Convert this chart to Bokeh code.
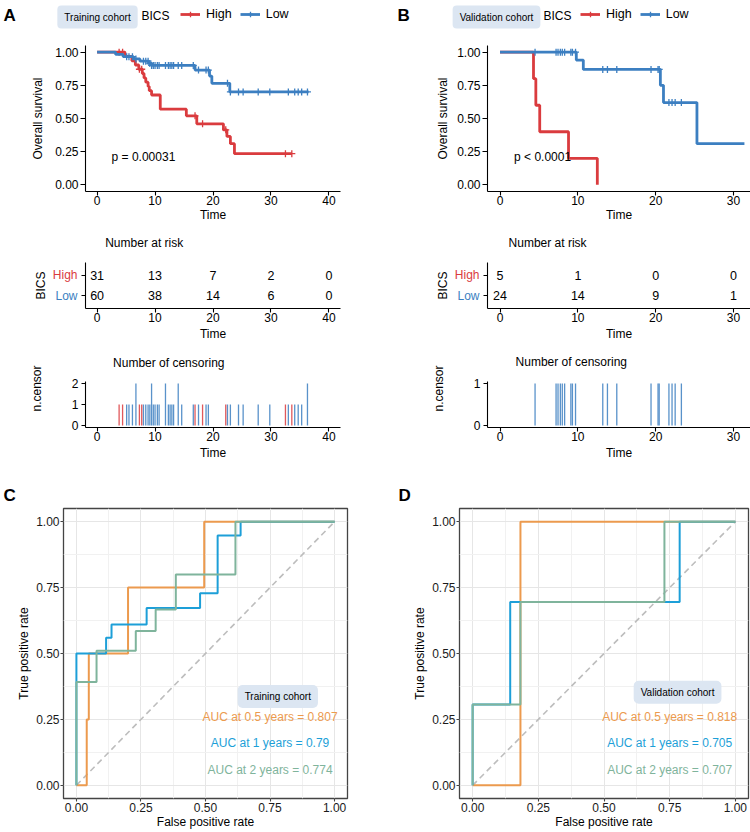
import numpy as np
from bokeh.plotting import figure
from bokeh.models import (Range1d, FixedTicker, NumeralTickFormatter, Label, Legend, LegendItem,
                          CustomJSTickFormatter)
from bokeh.layouts import column, row
from bokeh.core.properties import value
from bokeh.embed import file_html
from bokeh.resources import INLINE

FONT = "Liberation Sans"
RED = "#DA3B3E"
BLUE = "#3C7FC1"
ORANGE = "#EC9A4E"
CYAN = "#1D9FD8"
GREEN = "#7FB49C"

# ---------------- Training cohort: Kaplan-Meier ----------------
tr_high_t = [0, 4.8, 6.0, 6.6, 7.2, 7.8, 8.1, 8.4, 8.8, 9.0, 9.4, 10.9, 15.4, 17.2, 21.8, 22.4, 23.0, 23.7]
tr_high_s = [1.0, 0.968, 0.935, 0.903, 0.871, 0.839, 0.806, 0.774, 0.742, 0.71, 0.677, 0.57, 0.52, 0.46, 0.415, 0.365, 0.31, 0.235]
tr_high_end = 33.6
tr_high_cens_t = [3.8, 4.4, 7.3, 7.7, 16.9, 18.2, 22.2, 32.5, 33.6]
tr_high_cens_n = [1, 1, 1, 1, 1, 1, 1, 1, 1]

tr_low_t = [0, 3.2, 4.5, 6.3, 7.4, 8.9, 9.4, 16.9, 19.4, 19.8, 22.9]
tr_low_s = [1.0, 0.983, 0.966, 0.949, 0.932, 0.915, 0.90, 0.865, 0.82, 0.765, 0.70]
tr_low_end = 36.5
tr_low_cens_t = [5.1, 5.5, 6.1, 6.7, 8.0, 8.4, 8.8, 9.1, 9.4, 9.7, 10.0, 10.4, 10.7, 11.8, 12.3, 12.6,
                 12.9, 13.2, 14.0, 14.6, 16.6, 17.5, 18.8, 19.2, 22.5, 23.0, 24.4, 25.2, 27.8, 29.8,
                 33.0, 34.1, 34.7, 35.3, 36.3]
tr_low_cens_n = [1, 1, 1, 2, 1, 1, 1, 1, 2, 1, 1, 1, 1, 2, 1, 1,
                 1, 1, 2, 1, 1, 1, 1, 1, 1, 1, 1, 1, 1, 1,
                 1, 1, 1, 1, 2]

tr_risk_times = [0, 10, 20, 30, 40]
tr_risk_high = [31, 13, 7, 2, 0]
tr_risk_low = [60, 38, 14, 6, 0]
tr_pval = "p = 0.00031"

# ---------------- Validation cohort: Kaplan-Meier ----------------
va_high_t = [0, 4.3, 4.6, 5.1, 8.8, 12.5]
va_high_s = [1.0, 0.8, 0.6, 0.4, 0.2, 0.0]
va_high_end = 12.5
va_high_cens_t = []
va_high_cens_n = []

va_low_t = [0, 9.8, 10.7, 20.6, 21.0, 25.3]
va_low_s = [1.0, 0.94, 0.87, 0.75, 0.62, 0.31]
va_low_end = 31.4
va_low_cens_t = [4.5, 7.2, 7.45, 7.75, 8.0, 8.3, 9.1, 9.3, 9.7, 13.2, 13.8, 15.0,
                 19.4, 20.3, 20.45, 21.7, 22.1, 22.5, 23.3]
va_low_cens_n = [1] * 19

va_risk_times = [0, 10, 20, 30]
va_risk_high = [5, 1, 0, 0]
va_risk_low = [24, 14, 9, 1]
va_pval = "p < 0.0001"

# ---------------- ROC curves ----------------
c_fpr_05 = [0, 0.04, 0.04, 0.048, 0.048, 0.20, 0.20, 0.495, 0.495, 1.0]
c_tpr_05 = [0, 0, 0.25, 0.25, 0.5, 0.5, 0.75, 0.75, 1.0, 1.0]
c_fpr_1 = [0, 0, 0.115, 0.115, 0.136, 0.136, 0.272, 0.272, 0.479, 0.479, 0.547, 0.547, 0.636, 0.636, 1.0]
c_tpr_1 = [0, 0.5, 0.5, 0.56, 0.56, 0.61, 0.61, 0.673, 0.673, 0.729, 0.729, 0.948, 0.948, 1.0, 1.0]
c_fpr_2 = [0, 0, 0.078, 0.078, 0.23, 0.23, 0.307, 0.307, 0.385, 0.385, 0.616, 0.616, 1.0]
c_tpr_2 = [0, 0.392, 0.392, 0.51, 0.51, 0.585, 0.585, 0.667, 0.667, 0.80, 0.80, 1.0, 1.0]
c_auc = ["AUC at 0.5 years = 0.807", "AUC at 1 years = 0.79", "AUC at 2 years = 0.774"]

d_fpr_05 = [0, 0.182, 0.182, 1.0]
d_tpr_05 = [0, 0, 1.0, 1.0]
d_fpr_1 = [0, 0, 0.143, 0.143, 0.788, 0.788, 1.0]
d_tpr_1 = [0, 0.307, 0.307, 0.695, 0.695, 1.0, 1.0]
d_fpr_2 = [0, 0, 0.182, 0.182, 0.730, 0.730, 1.0]
d_tpr_2 = [0, 0.307, 0.307, 0.695, 0.695, 1.0, 1.0]
d_auc = ["AUC at 0.5 years = 0.818", "AUC at 1 years = 0.705", "AUC at 2 years = 0.707"]

diag = [0, 1]
unit_ticks = [0, 0.25, 0.5, 0.75, 1.0]
unit_minor = [0.125, 0.375, 0.625, 0.875]
group_names = ["High", "Low"]
group_rows = [2, 1]
group_colors = [RED, BLUE]

RISK_YR = (0.4, 4.178)


def step_xy(t, s, end):
    xs, ys = [t[0]], [s[0]]
    for i in range(1, len(t)):
        xs += [t[i], t[i]]
        ys += [s[i - 1], s[i]]
    xs.append(end)
    ys.append(s[-1])
    return xs, ys


def surv_at(t, s, times):
    if len(times) == 0:
        return []
    idx = np.searchsorted(np.array(t), np.array(times), side="right") - 1
    return [s[i] for i in idx]


def style_axis(ax, tick_out=5, standoff=2, label_standoff=5, size="12px",
               label_size="12px", line_color="black", text_color="black", line=True):
    ax.axis_line_color = line_color if line else None
    ax.axis_line_width = 1.1
    ax.major_tick_line_color = line_color
    ax.major_tick_line_width = 1.1
    ax.major_tick_out = tick_out
    ax.major_tick_in = 0
    ax.minor_tick_line_color = None
    ax.major_label_text_font = FONT
    ax.major_label_text_font_size = size
    ax.major_label_text_color = text_color
    ax.major_label_standoff = standoff
    ax.axis_label_text_font = FONT
    ax.axis_label_text_font_size = label_size
    ax.axis_label_text_font_style = "normal"
    ax.axis_label_text_color = "black"
    ax.axis_label_standoff = label_standoff


def base_fig(w, h, xr, yr, bl, br, bt, bb, axes=True):
    kw = {} if axes else dict(x_axis_location=None, y_axis_location=None)
    p = figure(width=w, height=h, x_range=Range1d(*xr), y_range=Range1d(*yr),
               min_border_left=bl, min_border_right=br, min_border_top=bt, min_border_bottom=bb,
               output_backend="svg", toolbar_location=None, **kw)
    p.xgrid.visible = False
    p.ygrid.visible = False
    p.outline_line_color = None
    p.background_fill_color = "white"
    p.border_fill_color = "white"
    return p


def txt(p, text, x, y, size="12px", color="black", align="left", style="normal", **kw):
    p.add_layout(Label(x=x, y=y, text=text, text_font=FONT,
                       text_font_size=size, text_color=color, text_align=align,
                       text_baseline="middle", text_font_style=style, **kw))


# ---------------- header row (panel letters, cohort tags, BICS legend) ----------------
def header_ab():
    p = base_fig(750, 37, (0, 750), (37, 0), 0, 0, 0, 0, axes=False)
    for letter, lx, cohort, bx, bics_x, leg_x in (("A", 3, "Training cohort", 97, 141, 180),
                                                  ("B", 397, "Validation cohort", 496, 543, 580)):
        txt(p, letter, lx, 15, size="17px", style="bold")
        txt(p, cohort, bx, 16.5, size="10px", align="center",
            background_fill_color="#DCE6F2", border_radius=4, padding=(7, 6))
        txt(p, "BICS", bics_x, 15, size="12px")
        items = []
        for name, col in zip(group_names, group_colors):
            # legend keys only (no data points)
            ln = p.line(x=[np.nan], y=[np.nan], line_color=col, line_width=2.8)
            mk = p.scatter(x=[np.nan], y=[np.nan], marker="cross", size=7, line_width=1.3,
                           line_color=col)
            items.append(LegendItem(label=name, renderers=[ln, mk]))
        p.add_layout(Legend(items=items, orientation="horizontal", location=(leg_x, 16),
                            padding=0, margin=0, spacing=8, label_standoff=6, glyph_width=20,
                            glyph_height=14, label_height=14, label_text_font=FONT,
                            label_text_font_size="12.5px", label_text_color="black",
                            border_line_color=None, background_fill_alpha=0))
    return p


def header_cd():
    p = base_fig(750, 40, (0, 750), (40, 0), 0, 0, 0, 0, axes=False)
    txt(p, "C", 3, 30, size="17px", style="bold")
    txt(p, "D", 398, 30, size="17px", style="bold")
    return p


def km_panel(w, bl, br, xr, xticks, hi, lo, pval, pval_x, ylab_standoff):
    p = base_fig(w, 188, xr, (-0.05, 1.05), bl, br, 8, 34)
    for (t, s, end, ct), col in zip((hi, lo), group_colors):
        xs, ys = step_xy(t, s, end)
        p.line(xs, ys, line_color=col, line_width=2.8)
        p.scatter(ct, surv_at(t, s, ct), marker="cross", size=7, line_width=1.3, line_color=col)
    p.xaxis.ticker = FixedTicker(ticks=xticks)
    p.yaxis.ticker = FixedTicker(ticks=unit_ticks)
    p.yaxis.formatter = NumeralTickFormatter(format="0.00")
    p.xaxis.axis_label = "Time"
    p.yaxis.axis_label = "Overall survival"
    style_axis(p.xaxis[0], tick_out=4, standoff=0, label_standoff=0)
    style_axis(p.yaxis[0], tick_out=5, standoff=2, label_standoff=ylab_standoff)
    txt(p, pval, pval_x, 0.21, size="12px")
    return p


def risk_labels(w, right_x, bics_x):
    # row names of the risk table (coloured like the curves) and its y title,
    # sharing the vertical scale of the table next to it
    p = base_fig(w, 120, (0, w), RISK_YR, 0, 0, 4, 37, axes=False)
    txt(p, "BICS", bics_x, float(np.mean(group_rows)), size="12px", align="center",
        angle=np.pi / 2)
    for name, col, yy in zip(group_names, group_colors, group_rows):
        txt(p, name, right_x, yy, size="12px", color=col, align="right")
    return p


def risk_panel(w, bl, br, xr, xticks, times, hi_n, lo_n, title_x):
    # frame also holds the table title; the y axis line is bounded to the table rows
    p = base_fig(w, 120, xr, RISK_YR, bl, br, 4, 37)
    for rowv, vals in zip(group_rows, (hi_n, lo_n)):
        p.text(x=times, y=[rowv] * len(times), text=[str(v) for v in vals],
               text_align="center", text_baseline="middle", text_font=value(FONT),
               text_font_size="12.5px", text_color="black")
    p.xaxis.ticker = FixedTicker(ticks=xticks)
    p.yaxis.ticker = FixedTicker(ticks=group_rows)
    p.yaxis.bounds = (0.4, 2.6)
    p.yaxis.formatter = CustomJSTickFormatter(code="return '';")
    p.xaxis.axis_label = "Time"
    style_axis(p.xaxis[0], tick_out=4, standoff=0, label_standoff=2)
    style_axis(p.yaxis[0], tick_out=4, standoff=0, label_standoff=0)
    txt(p, "Number at risk", title_x, 3.509, size="12px")
    return p


def cens_panel(w, bl, br, xr, xticks, yr, ybounds, yticks, title_y, hi, lo, title_x):
    p = base_fig(w, 120, xr, yr, bl, br, 4, 38)
    for (ct, cn), col in ((lo, BLUE), (hi, RED)):
        if len(ct):
            p.segment(x0=ct, y0=[0] * len(ct), x1=ct, y1=cn, line_color=col,
                      line_width=1.3, line_alpha=0.85)
    p.xaxis.ticker = FixedTicker(ticks=xticks)
    p.yaxis.ticker = FixedTicker(ticks=yticks)
    p.yaxis.bounds = ybounds
    p.xaxis.axis_label = "Time"
    p.yaxis.axis_label = "n.censor"
    style_axis(p.xaxis[0], tick_out=4, standoff=0, label_standoff=2)
    style_axis(p.yaxis[0], tick_out=4, standoff=3, label_standoff=25)
    txt(p, "Number of censoring", title_x, title_y, size="12px")
    return p


def roc_panel(w, bl, br, curves, cohort, aucs, box_y):
    p = figure(width=w, height=326, x_range=Range1d(-0.05, 1.05), y_range=Range1d(-0.05, 1.05),
               min_border_left=bl, min_border_right=br, min_border_top=3, min_border_bottom=32,
               output_backend="svg", toolbar_location=None)
    p.outline_line_color = "#444444"
    p.outline_line_width = 1.3
    tk = FixedTicker(ticks=unit_ticks, minor_ticks=unit_minor)
    p.xaxis.ticker = tk
    p.yaxis.ticker = tk
    p.xaxis.formatter = NumeralTickFormatter(format="0.00")
    p.yaxis.formatter = NumeralTickFormatter(format="0.00")
    for g in (p.xgrid[0], p.ygrid[0]):
        g.ticker = tk
        g.grid_line_color = "#E6E6E6"
        g.grid_line_width = 1
        g.minor_grid_line_color = "#F1F1F1"
        g.minor_grid_line_width = 1
    p.xaxis.axis_label = "False positive rate"
    p.yaxis.axis_label = "True positive rate"
    style_axis(p.xaxis[0], tick_out=3, standoff=0, label_standoff=0, size="12px",
               line_color="#444444", text_color="#1a1a1a", line=False)
    style_axis(p.yaxis[0], tick_out=3, standoff=0, label_standoff=2, size="12px",
               line_color="#444444", text_color="#1a1a1a", line=False)
    p.line(diag, diag, line_color="#BDBDBD", line_width=1.6, line_dash="6 4")
    cols = [ORANGE, CYAN, GREEN]
    for (fx, fy), col in zip(curves, cols):
        p.line(fx, fy, line_color=col, line_width=2)
    txt(p, cohort, 0.78, box_y, size="10px", align="center",
        background_fill_color="#DCE6F2", border_radius=5, padding=(7, 6))
    for lab, col, yy in zip(aucs, cols, [0.26, 0.16, 0.06]):
        txt(p, lab, 0.75, yy, size="12px", color=col, align="center")
    return p


# ---- layout geometry ----
xrA = (-2, 42)
xrB = (-1.61, 32.18)

kmA = km_panel(375, 85, 35, xrA, tr_risk_times,
               (tr_high_t, tr_high_s, tr_high_end, tr_high_cens_t),
               (tr_low_t, tr_low_s, tr_low_end, tr_low_cens_t),
               tr_pval, 2.5, 7)
kmB = km_panel(375, 112, 0, xrB, va_risk_times,
               (va_high_t, va_high_s, va_high_end, va_high_cens_t),
               (va_low_t, va_low_s, va_low_end, va_low_cens_t),
               va_pval, 1.8, 4)

lA = risk_labels(79, 77, 40)
rA = risk_panel(296, 6, 35, xrA, tr_risk_times, tr_risk_times, tr_risk_high, tr_risk_low, 1.4)
lB = risk_labels(106, 104, 67)
rB = risk_panel(269, 6, 0, xrB, va_risk_times, va_risk_times, va_risk_high, va_risk_low, 1.1)

cA = cens_panel(375, 85, 35, xrA, tr_risk_times, (-0.1, 3.614), (-0.1, 2.1), [0, 1, 2], 2.995,
                (tr_high_cens_t, tr_high_cens_n), (tr_low_cens_t, tr_low_cens_n), 2.76)
cB = cens_panel(375, 112, 0, xrB, va_risk_times, (-0.05, 1.807), (-0.05, 1.05), [0, 1], 1.498,
                (va_high_cens_t, va_high_cens_n), (va_low_cens_t, va_low_cens_n), 2.0)

rocC = roc_panel(375, 63, 28, [(c_fpr_05, c_tpr_05), (c_fpr_1, c_tpr_1), (c_fpr_2, c_tpr_2)],
                 "Training cohort", c_auc, 0.337)
rocD = roc_panel(375, 84, 2, [(d_fpr_05, d_tpr_05), (d_fpr_1, d_tpr_1), (d_fpr_2, d_tpr_2)],
                 "Validation cohort", d_auc, 0.353)

layout = column(header_ab(), row(kmA, kmB), row(lA, rA, lB, rB), row(cA, cB), header_cd(),
                row(rocC, rocD))

open("out.html", "w").write(file_html(layout, INLINE))
